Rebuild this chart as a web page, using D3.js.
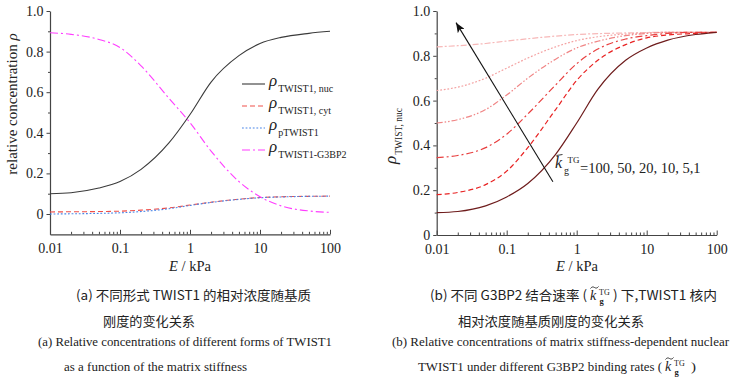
<!DOCTYPE html>
<html><head><meta charset="utf-8">
<script src="https://cdn.jsdelivr.net/npm/d3@7"></script>
<style>body{margin:0;background:#fff} svg{display:block}</style>
</head><body><svg id="c" width="745" height="382"></svg>
<script>
// ---------------- data ----------------
const E = [0.01,0.02,0.05,0.1,0.2,0.5,1,2,5,10,20,50,100];
// panel (a)
const nuc   = [0.10,0.105,0.128,0.16,0.22,0.35,0.49,0.65,0.78,0.84,0.87,0.89,0.90];
const cyt   = [0.01,0.011,0.012,0.014,0.019,0.03,0.044,0.058,0.073,0.081,0.085,0.087,0.088];
const pTw   = [0.0,0.001,0.003,0.006,0.012,0.026,0.042,0.057,0.072,0.08,0.084,0.087,0.088];
const g3bp2 = [0.893,0.885,0.86,0.82,0.73,0.57,0.45,0.31,0.16,0.085,0.04,0.015,0.008];
// panel (b): k_g^TG = 100, 50, 20, 10, 5, 1
const kVals = ["100","50","20","10","5","1"];
const k100 = [0.10,0.105,0.13,0.17,0.23,0.36,0.50,0.65,0.78,0.835,0.87,0.895,0.905];
const k50  = [0.18,0.19,0.225,0.285,0.39,0.56,0.69,0.78,0.85,0.88,0.893,0.90,0.905];
const k20  = [0.345,0.355,0.39,0.45,0.54,0.67,0.765,0.83,0.875,0.89,0.90,0.905,0.905];
const k10  = [0.50,0.515,0.56,0.625,0.70,0.785,0.835,0.865,0.89,0.90,0.905,0.905,0.905];
const k5   = [0.645,0.66,0.70,0.745,0.79,0.84,0.868,0.885,0.897,0.902,0.905,0.905,0.905];
const k1   = [0.84,0.845,0.855,0.866,0.876,0.888,0.895,0.899,0.902,0.904,0.905,0.905,0.905];
// arrow annotation (E, rho): tail, head
const arrowE = [0.457, 0.0189];
const arrowR = [0.238, 0.948];
// ticks
const xTicks = [0.01,0.1,1,10,100];
const xTickLabels = ["0.01","0.1","1","10","100"];
const yTicks = [0,0.2,0.4,0.6,0.8,1.0];
const yTickLabels = ["0","0.2","0.4","0.6","0.8","1.0"];
const yMinor = [0.1,0.3,0.5,0.7,0.9];

// ---------------- drawing ----------------
const svg = d3.select("#c");
svg.append("rect").attr("width",745).attr("height",382).attr("fill","#fff");
const SERIF = "'Liberation Serif','Times New Roman',serif";
const CJK = "'Noto Sans CJK SC','Noto Sans CJK JP',sans-serif";
const axisColor = "#444";

const xMinor = [];
for (let d = 0.01; d < 100; d *= 10) for (let m = 2; m <= 9; m++) xMinor.push(+(d*m).toPrecision(3));

function drawAxes(x, y, yMinorVals) {
  const y0 = y.range()[0];
  const x0 = x.range()[0];
  const gx = svg.append("g").attr("transform", `translate(0,${y0})`);
  gx.call(d3.axisBottom(x).tickValues(xTicks).tickFormat((d,i)=>xTickLabels[i]).tickSizeInner(-4.5).tickSizeOuter(0).tickPadding(9));
  gx.append("g").call(d3.axisBottom(x).tickValues(xMinor).tickFormat("").tickSizeInner(-2.5).tickSizeOuter(0))
    .select(".domain").remove();
  const gy = svg.append("g").attr("transform", `translate(${x0},0)`);
  gy.call(d3.axisLeft(y).tickValues(yTicks).tickFormat((d,i)=>yTickLabels[i]).tickSizeInner(3.5).tickSizeOuter(0).tickPadding(3));
  gy.append("g").call(d3.axisLeft(y).tickValues(yMinorVals).tickFormat("").tickSizeInner(2).tickSizeOuter(0))
    .select(".domain").remove();
  svg.selectAll(".domain").attr("stroke", axisColor).attr("stroke-width",1.2);
  svg.selectAll(".tick line").attr("stroke", axisColor);
  svg.selectAll(".tick text").attr("font-family", SERIF).attr("font-size", 14).attr("fill","#222");
  gx.selectAll(".tick text").attr("dy","0.71em");
}

function addLine(x, y, ys, color, dash, w) {
  const line = d3.line().x((d,i)=>x(E[i])).y(d=>y(d)).curve(d3.curveMonotoneX);
  svg.append("path").attr("d", line(ys)).attr("fill","none")
    .attr("stroke", color).attr("stroke-width", w || 1.1)
    .attr("stroke-dasharray", dash || null);
}

// ---------- panel (a) ----------
const xa = d3.scaleLog().domain([0.01,100]).range([50,330]);
const ya = d3.scaleLinear().domain([-0.1,1.0]).range([234.3,11]);
drawAxes(xa, ya, yMinor);

const styleA = [
  {data: nuc,   color:"#3a3a3a", dash:null,        sub:"TWIST1, nuc"},
  {data: cyt,   color:"#f0504a", dash:"5,3",       sub:"TWIST1, cyt"},
  {data: pTw,   color:"#4a86e8", dash:"1.8,1.8",   sub:"pTWIST1"},
  {data: g3bp2, color:"#ff3dff", dash:"8,3,2,3",   sub:"TWIST1-G3BP2"}
];
styleA.forEach(s => addLine(xa, ya, s.data, s.color, s.dash, 1.1));

styleA.forEach((s,i) => {
  const ly = 84 + i*22;
  svg.append("line").attr("x1",242).attr("x2",265).attr("y1",ly).attr("y2",ly)
    .attr("stroke", s.color).attr("stroke-width",1.1).attr("stroke-dasharray", s.dash);
  const t = svg.append("text").attr("x",269).attr("y",ly+1.5).attr("font-family",SERIF).attr("fill","#222");
  t.append("tspan").attr("font-size",17).attr("font-style","italic").text("ρ");
  t.append("tspan").attr("font-size",10).attr("dy",6.5).attr("dx",1).text(s.sub);
});

const xt = svg.append("text").attr("x",190).attr("y",271).attr("text-anchor","middle")
  .attr("font-family",SERIF).attr("font-size",14.5).attr("fill","#222");
xt.append("tspan").attr("font-style","italic").text("E");
xt.append("tspan").text(" / kPa");

const yt = svg.append("text").attr("transform","translate(17,104) rotate(-90)").attr("text-anchor","middle")
  .attr("font-family",SERIF).attr("font-size",15).attr("fill","#222");
yt.append("tspan").text("relative concentration ");
yt.append("tspan").attr("font-style","italic").text("ρ");

// ---------- panel (b) ----------
const xb = d3.scaleLog().domain([0.01,100]).range([436.7,716.7]);
const yb = d3.scaleLinear().domain([0,1]).range([235,11]);
drawAxes(xb, yb, yMinor);

const styleB = [
  {data:k1,   color:"#f7b8b8", dash:"6,2,2,2"},
  {data:k5,   color:"#f4a2a2", dash:"1.8,1.8"},
  {data:k10,  color:"#f08585", dash:"6,2,1.5,2,1.5,2"},
  {data:k20,  color:"#e84040", dash:"7,3,2,3"},
  {data:k50,  color:"#e82222", dash:"5,3"},
  {data:k100, color:"#6e1c1c", dash:null}
];
styleB.forEach(s => addLine(xb, yb, s.data, s.color, s.dash, 1.2));

svg.append("defs").append("marker").attr("id","ah").attr("markerUnits","userSpaceOnUse")
  .attr("markerWidth",11).attr("markerHeight",8).attr("refX",10).attr("refY",4).attr("orient","auto")
  .append("path").attr("d","M0,0 L10,4 L0,8 L2.5,4 Z").attr("fill","#111");
svg.append("line")
  .attr("x1", xb(arrowE[0])).attr("y1", yb(arrowR[0]))
  .attr("x2", xb(arrowE[1])).attr("y2", yb(arrowR[1]))
  .attr("stroke","#111").attr("stroke-width",1.1).attr("marker-end","url(#ah)");

const kg = svg.append("g").attr("font-family",SERIF).attr("fill","#222");
kg.append("text").attr("x",555).attr("y",168).attr("font-size",16).attr("font-style","italic").text("k");
kg.append("path").attr("d","M556.5,155.5 L562.5,154.5").attr("stroke","#222").attr("stroke-width",0.9);
kg.append("text").attr("x",567.5).attr("y",162.5).attr("font-size",9).text("TG");
kg.append("text").attr("x",564).attr("y",174).attr("font-size",10).text("g");
kg.append("text").attr("x",580).attr("y",172.5).attr("font-size",14.5).text("=" + kVals.slice(0,4).join(", ") + ", " + kVals.slice(4).join(","));

const xt2 = svg.append("text").attr("x",577).attr("y",271).attr("text-anchor","middle")
  .attr("font-family",SERIF).attr("font-size",14.5).attr("fill","#222");
xt2.append("tspan").attr("font-style","italic").text("E");
xt2.append("tspan").text(" / kPa");

const yt2 = svg.append("text").attr("transform","translate(396,136) rotate(-90)").attr("text-anchor","middle")
  .attr("font-family",SERIF).attr("fill","#222");
yt2.append("tspan").attr("font-size",17).attr("font-style","italic").text("ρ");
yt2.append("tspan").attr("font-size",9.5).attr("dy",6).attr("dx",1).text("TWIST, nuc");

// ---------- captions ----------
function cap(txt, x0, x1, yb_, font, size) {
  svg.append("text").attr("x",x0).attr("y",yb_).attr("font-family",font).attr("font-size",size)
    .attr("fill","#222").attr("textLength", x1-x0).attr("lengthAdjust","spacingAndGlyphs").text(txt);
}
function ktilde(x, yBase) {
  svg.append("text").attr("x",x).attr("y",yBase).attr("font-family",SERIF).attr("font-size",14)
    .attr("font-style","italic").attr("fill","#222").text("k");
  const ty = yBase - 12.5;
  svg.append("path")
    .attr("d", `M${x+0.5},${ty+1} C${x+2},${ty-1.2} ${x+3.5},${ty-0.6} ${x+4.5},${ty} S${x+7},${ty+1.2} ${x+8.5},${ty-1}`)
    .attr("fill","none").attr("stroke","#222").attr("stroke-width",0.9);
  svg.append("text").attr("x",x+9).attr("y",yBase-5.5).attr("font-family",SERIF).attr("font-size",8)
    .attr("fill","#222").text("TG");
  svg.append("text").attr("x",x+9.5).attr("y",yBase+3.5).attr("font-family",SERIF).attr("font-size",8.5)
    .attr("font-weight","bold").attr("fill","#222").text("g");
}
cap("(a) 不同形式 TWIST1 的相对浓度随基质", 76, 311, 300, CJK, 13);
cap("刚度的变化关系", 103, 195, 326, CJK, 13);
cap("(a) Relative concentrations of different forms of TWIST1", 38, 332, 346, SERIF, 13);
cap("as a function of the matrix stiffness", 64, 247, 371, SERIF, 13);

cap("(b) 不同 G3BP2 结合速率 (", 430, 587, 300, CJK, 13);
ktilde(590, 300);
cap(") 下,TWIST1 核内", 613, 717, 300, CJK, 13);
cap("相对浓度随基质刚度的变化关系", 458, 644, 326, CJK, 13);
cap("(b) Relative concentrations of matrix stiffness-dependent nuclear", 392, 729, 346, SERIF, 13);
cap("TWIST1 under different G3BP2 binding rates (", 418, 662, 371, SERIF, 13);
ktilde(665, 371);
cap(")", 691, 696, 371, SERIF, 13);
</script>
</body></html>
